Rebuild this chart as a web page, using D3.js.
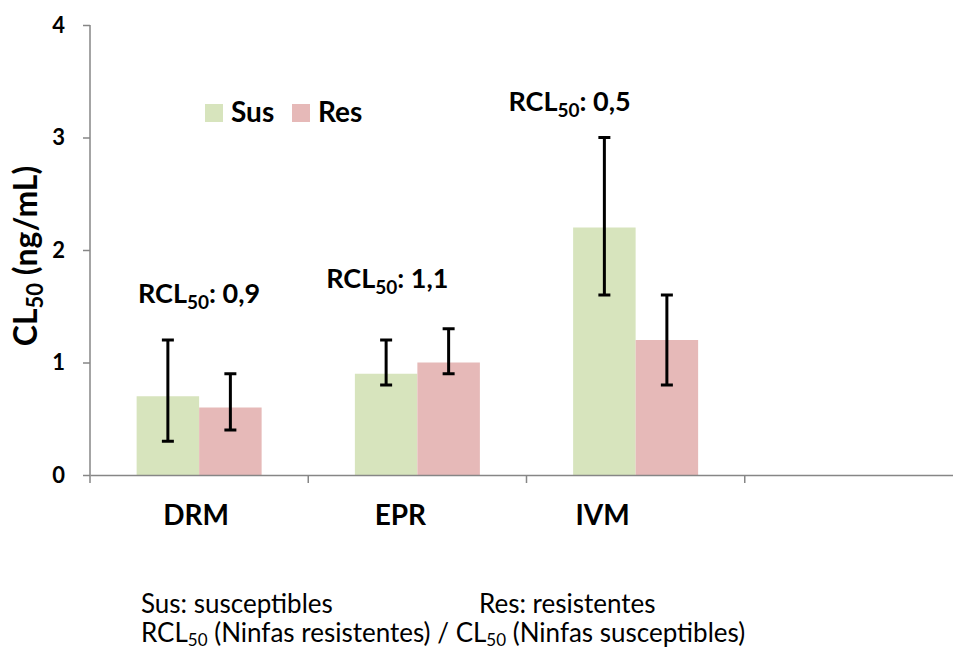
<!DOCTYPE html>
<html>
<head>
<meta charset="utf-8">
<script src="https://cdn.jsdelivr.net/npm/d3@7"></script>
<style>
  body { margin: 0; background: #fff; }
  svg text { font-family: Lato, "Open Sans", sans-serif; fill: #000; }
</style>
</head>
<body>
<div id="chart"></div>
<script>
const categories = ['DRM', 'EPR', 'IVM', ''];
const groups = ['Sus', 'Res'];
const susValues = [0.7, 0.9, 2.2];
const susLow = [0.3, 0.8, 1.6];
const susHigh = [1.2, 1.2, 3.0];
const resValues = [0.6, 1.0, 1.2];
const resLow = [0.4, 0.9, 0.8];
const resHigh = [0.9, 1.3, 1.6];
const ratioLabels = ['0,9', '1,1', '0,5'];
const yTicks = [0, 1, 2, 3, 4];

const colors = { Sus: '#d7e4bd', Res: '#e6b9b8' };

const dimensions = {
  width: 953,
  height: 652,
  margin: { top: 25, bottom: 177, left: 90, right: -10 }
};
dimensions.containerWidth = dimensions.width - dimensions.margin.left - dimensions.margin.right;
dimensions.containerHeight = dimensions.height - dimensions.margin.top - dimensions.margin.bottom;

const rows = [];
categories.slice(0, 3).forEach((c, i) => {
  rows.push({ cat: c, group: 'Sus', value: susValues[i], low: susLow[i], high: susHigh[i] });
  rows.push({ cat: c, group: 'Res', value: resValues[i], low: resLow[i], high: resHigh[i] });
});

const svg = d3.select('#chart')
  .append('svg')
  .attr('width', dimensions.width)
  .attr('height', dimensions.height);

const container = svg.append('g')
  .attr('transform', `translate(${dimensions.margin.left}, ${dimensions.margin.top})`);

const xScale = d3.scaleBand()
  .domain(categories)
  .range([0, dimensions.containerWidth]);

const barWidth = 62.5;
const groupScale = d3.scaleBand()
  .domain(groups)
  .range([xScale.bandwidth() / 2 - barWidth, xScale.bandwidth() / 2 + barWidth]);

const yScale = d3.scaleLinear()
  .domain([0, 4])
  .range([dimensions.containerHeight, 0]);

// bars
container.append('g')
  .selectAll('rect')
  .data(rows)
  .join('rect')
  .attr('x', (d) => xScale(d.cat) + groupScale(d.group))
  .attr('y', (d) => yScale(d.value))
  .attr('width', groupScale.bandwidth())
  .attr('height', (d) => yScale(0) - yScale(d.value))
  .attr('fill', (d) => colors[d.group]);

// error bars
const errors = container.append('g')
  .attr('stroke', '#000')
  .attr('stroke-width', 3);

const cx = (d) => xScale(d.cat) + groupScale(d.group) + groupScale.bandwidth() / 2;

errors.selectAll('.stem')
  .data(rows)
  .join('line')
  .attr('x1', cx).attr('x2', cx)
  .attr('y1', (d) => yScale(d.low))
  .attr('y2', (d) => yScale(d.high));

errors.selectAll('.cap-top')
  .data(rows)
  .join('line')
  .attr('x1', (d) => cx(d) - 6).attr('x2', (d) => cx(d) + 6)
  .attr('y1', (d) => yScale(d.high))
  .attr('y2', (d) => yScale(d.high));

errors.selectAll('.cap-bottom')
  .data(rows)
  .join('line')
  .attr('x1', (d) => cx(d) - 6).attr('x2', (d) => cx(d) + 6)
  .attr('y1', (d) => yScale(d.low))
  .attr('y2', (d) => yScale(d.low));

// axes
const yAxis = d3.axisLeft(yScale)
  .tickValues(yTicks)
  .tickSize(7)
  .tickPadding(18)
  .tickFormat(d3.format('d'));

const yAxisGroup = container.append('g').call(yAxis).attr('font-family', null);
yAxisGroup.select('.domain').remove();
yAxisGroup.append('line')
  .attr('x1', 0).attr('x2', 0)
  .attr('y1', 0).attr('y2', dimensions.containerHeight + 8);
yAxisGroup.selectAll('line').attr('stroke', '#868686').attr('stroke-width', 1.5);
yAxisGroup.selectAll('text')
  .style('font-size', '22px')
  .style('font-weight', 'bold');

const xAxis = d3.axisBottom(xScale)
  .tickSize(0)
  .tickPadding(30)
  .tickFormat((d) => d);

const xAxisGroup = container.append('g')
  .attr('transform', `translate(0, ${dimensions.containerHeight})`)
  .call(xAxis)
  .attr('font-family', null);
xAxisGroup.select('.domain').attr('stroke', '#868686').attr('stroke-width', 1.5);
const labelShift = [-3, -17, -33, 0];
xAxisGroup.selectAll('text')
  .attr('dx', (d, i) => labelShift[i])
  .style('font-size', '28px')
  .style('font-weight', 'bold');

xAxisGroup.selectAll('.sep')
  .data(categories.slice(1))
  .join('line')
  .attr('x1', (d) => xScale(d)).attr('x2', (d) => xScale(d))
  .attr('y1', 0).attr('y2', 8)
  .attr('stroke', '#868686')
  .attr('stroke-width', 1.5);

// y title
const yTitle = svg.append('text')
  .attr('transform', 'translate(37, 256) rotate(-90)')
  .attr('text-anchor', 'middle')
  .style('font-size', '32px')
  .style('font-weight', 'bold');
yTitle.append('tspan').text('CL');
yTitle.append('tspan').attr('dy', 6).style('font-size', '22px').text('50');
yTitle.append('tspan').attr('dy', -6).text(' (ng/mL)');

// ratio labels
const ratioY = [1.5, 1.6, 3.2];
const ratioShift = [0, -30, -66];
const ratioLift = [-3, -7, -4];
const ratio = container.append('g')
  .selectAll('text')
  .data(ratioLabels)
  .join('text')
  .attr('x', (d, i) => xScale(categories[i]) + xScale.bandwidth() / 2 + ratioShift[i])
  .attr('y', (d, i) => yScale(ratioY[i]) + ratioLift[i])
  .attr('text-anchor', 'middle')
  .style('font-size', '27px')
  .style('font-weight', 'bold');
ratio.append('tspan').text('RCL');
ratio.append('tspan').attr('dy', 6).style('font-size', '19px').text('50');
ratio.append('tspan').attr('dy', -6).text((d) => ': ' + d);

// legend
const legend = svg.append('g').attr('transform', 'translate(205, 104)');
const legendItems = legend.selectAll('g')
  .data(groups)
  .join('g')
  .attr('transform', (d, i) => `translate(${i * 87}, 0)`);
legendItems.append('rect')
  .attr('width', 18).attr('height', 18)
  .attr('fill', (d) => colors[d]);
legendItems.append('text')
  .attr('x', 26).attr('y', 18)
  .style('font-size', '28px')
  .style('font-weight', 'bold')
  .text((d) => d);

// footnote
const note = svg.append('g').style('font-size', '26px');
note.append('text').attr('x', 141).attr('y', 613).text('Sus: susceptibles');
note.append('text').attr('x', 479).attr('y', 613).text('Res: resistentes');
const note2 = note.append('text').attr('x', 141).attr('y', 642);
note2.append('tspan').text('RCL');
note2.append('tspan').attr('dy', 4).style('font-size', '17px').text('50');
note2.append('tspan').attr('dy', -4).text(' (Ninfas resistentes) / CL');
note2.append('tspan').attr('dy', 4).style('font-size', '17px').text('50');
note2.append('tspan').attr('dy', -4).text(' (Ninfas susceptibles)');
</script>
</body>
</html>
